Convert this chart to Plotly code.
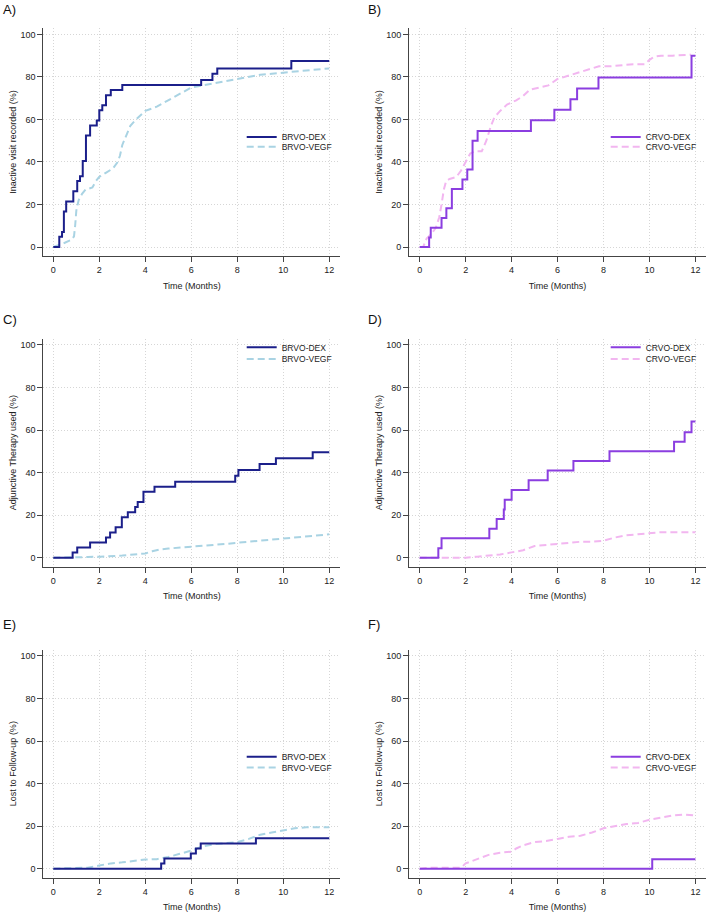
import plotly.graph_objects as go

# ---------------- DATA ----------------
# Panel A: Inactive visit recorded, BRVO
A_dex_x = [0, 0.26, 0.38, 0.46, 0.56, 0.87, 1.04, 1.16, 1.28, 1.42, 1.6, 1.89, 2.0, 2.13, 2.29, 2.5, 3.0, 6.43, 6.92, 7.13, 10.35, 12]
A_dex_y = [0, 4.8, 7.1, 16.7, 21.4, 26.2, 31.0, 33.3, 40.5, 52.4, 57.1, 59.5, 64.3, 66.7, 71.4, 73.8, 76.2, 78.6, 81.5, 84.0, 87.5, 87.5]
A_vegf_x = [0, 0.3, 0.5, 0.8, 0.9, 0.95, 1.0, 1.1, 1.25, 1.4, 1.7, 1.85, 2.0, 2.3, 2.6, 2.8, 2.9, 3.0, 3.2, 3.35, 3.6, 4.0, 4.5, 5.0, 5.5, 6.0, 6.5, 7.0, 7.5, 8.0, 8.5, 9.0, 9.5, 10.0, 10.5, 11.0, 11.5, 12.0]
A_vegf_y = [0, 1, 2, 3.5, 5, 10, 17, 22, 25, 27, 28, 31, 33, 35, 37, 40, 43, 48, 53, 57, 60, 64, 66, 69, 72, 75, 76, 77, 78, 79, 80, 81, 81.5, 82, 82.5, 83, 83.5, 84]

# Panel B: Inactive visit recorded, CRVO
B_dex_x = [0, 0.41, 0.48, 0.95, 1.16, 1.4, 1.86, 2.07, 2.3, 2.52, 4.84, 5.86, 6.56, 6.85, 7.78, 11.83, 12]
B_dex_y = [0, 4.5, 9.1, 13.6, 18.2, 27.3, 31.8, 36.4, 50.0, 54.5, 59.6, 64.5, 69.5, 74.5, 79.7, 90.0, 90.0]
B_vegf_x = [0, 0.15, 0.3, 0.5, 0.7, 0.85, 0.95, 1.05, 1.15, 1.3, 1.6, 1.8, 2.0, 2.2, 2.4, 2.7, 2.9, 3.1, 3.25, 3.5, 3.8, 4.2, 4.5, 4.8, 5.2, 5.6, 6.0, 6.3, 6.6, 7.0, 7.5, 7.8, 8.3, 8.8, 9.3, 9.8, 10.0, 10.2, 10.5, 11.0, 11.5, 11.8]
B_vegf_y = [0, 0, 4, 6, 9, 14, 20, 27, 31, 32, 33, 36, 40, 44, 45, 45, 50, 57, 61, 64, 67, 69, 71, 74, 75, 76, 79, 80, 81, 82, 84, 85, 85, 85.5, 86, 86, 88, 89.5, 90, 90, 90.5, 90.5]

# Panel C: Adjunctive therapy used, BRVO
C_dex_x = [0, 0.84, 1.04, 1.6, 2.29, 2.47, 2.71, 2.98, 3.24, 3.56, 3.67, 3.92, 4.4, 5.3, 7.91, 8.05, 8.97, 9.68, 11.28, 12]
C_dex_y = [0, 2.4, 4.8, 7.1, 9.5, 11.9, 14.3, 19.0, 21.4, 23.8, 26.2, 31.0, 33.3, 35.7, 38.5, 41.2, 44.0, 46.8, 49.6, 49.6]
C_vegf_x = [0, 1.0, 1.5, 2.0, 2.5, 3.0, 3.5, 4.0, 4.3, 4.6, 5.0, 5.5, 6.0, 6.5, 7.0, 7.5, 8.0, 8.5, 9.0, 9.5, 10.0, 10.5, 11.0, 11.5, 12.0]
C_vegf_y = [0, 0, 0.3, 0.5, 0.7, 1, 1.5, 2, 3, 3.8, 4.3, 4.7, 5, 5.5, 6, 6.5, 7, 7.5, 8, 8.5, 9, 9.5, 10, 10.5, 11]

# Panel D: Adjunctive therapy used, CRVO
D_dex_x = [0, 0.81, 0.95, 3.03, 3.35, 3.66, 3.7, 4.0, 4.74, 5.57, 6.69, 8.26, 11.07, 11.53, 11.83, 12]
D_dex_y = [0, 4.5, 9.1, 13.6, 18.2, 22.7, 27.3, 31.8, 36.4, 41.0, 45.5, 50.0, 54.5, 59.0, 64.0, 64.0]
D_vegf_x = [0, 2.0, 2.5, 3.0, 3.5, 4.0, 4.5, 5.0, 5.5, 6.0, 6.5, 7.0, 7.5, 8.0, 8.5, 9.0, 9.5, 10.0, 10.5, 11.0, 12.0]
D_vegf_y = [0, 0, 0.5, 1, 1.5, 2.5, 3.5, 5.5, 6, 6.5, 7, 7.5, 7.5, 8, 9.5, 10.5, 11, 11.5, 12, 12, 12]

# Panel E: Lost to follow-up, BRVO
E_dex_x = [0, 4.69, 4.83, 5.98, 6.2, 6.41, 8.81, 12]
E_dex_y = [0, 2.4, 4.8, 7.1, 9.5, 11.9, 14.3, 14.3]
E_vegf_x = [0, 1.0, 1.5, 2.0, 2.5, 3.0, 3.5, 4.0, 4.5, 5.0, 5.5, 6.0, 6.5, 7.0, 7.5, 8.0, 8.5, 9.0, 9.5, 10.0, 10.5, 11.0, 12.0]
E_vegf_y = [0, 0.2, 0.5, 1.5, 2.5, 3, 3.8, 4.3, 4.5, 5.5, 7, 8.5, 10.5, 11.5, 12, 12.5, 14, 16, 17, 18, 19, 19.5, 19.5]

# Panel F: Lost to follow-up, CRVO
F_dex_x = [0, 10.12, 12]
F_dex_y = [0, 4.5, 4.5]
F_vegf_x = [0, 0.5, 1.0, 1.5, 1.8, 2.0, 2.5, 3.0, 3.5, 4.0, 4.2, 4.5, 5.0, 5.5, 6.0, 6.5, 7.0, 7.5, 8.0, 8.5, 9.0, 9.5, 10.0, 10.5, 11.0, 11.5, 12.0]
F_vegf_y = [0, 0.5, 0.5, 0.3, 0.5, 2.5, 4.5, 6.5, 7.5, 8, 9.5, 11, 12.5, 13, 14, 15, 15.5, 17, 19, 20, 21, 21.5, 23, 24, 25, 25.5, 25]

panel_labels = ["A)", "B)", "C)", "D)", "E)", "F)"]
y_titles = ["Inactive visit recorded (%)", "Inactive visit recorded (%)",
            "Adjunctive Therapy used (%)", "Adjunctive Therapy used (%)",
            "Lost to Follow-up (%)", "Lost to Follow-up (%)"]
x_title = "Time (Months)"
x_ticks = [0, 2, 4, 6, 8, 10, 12]
y_ticks = [0, 20, 40, 60, 80, 100]
names = [("BRVO-DEX", "BRVO-VEGF"), ("CRVO-DEX", "CRVO-VEGF")]

series = [
    (A_dex_x, A_dex_y, A_vegf_x, A_vegf_y),
    (B_dex_x, B_dex_y, B_vegf_x, B_vegf_y),
    (C_dex_x, C_dex_y, C_vegf_x, C_vegf_y),
    (D_dex_x, D_dex_y, D_vegf_x, D_vegf_y),
    (E_dex_x, E_dex_y, E_vegf_x, E_vegf_y),
    (F_dex_x, F_dex_y, F_vegf_x, F_vegf_y),
]

# ---------------- STYLE / LAYOUT ----------------
W, H = 708, 914
FONT = "Liberation Sans, Arial, Helvetica, sans-serif"
dex_colors = ["#1b1f8a", "#8b3ee0"]
vegf_colors = ["#a9d3e3", "#f2b6f0"]

col_px = [(43.3, 340.3), (409.0, 706.0)]
col_range = [[-0.435, 12.48], [-0.466, 12.46]]
row_px = [(28.0, 256.0), (338.6, 566.7), (649.6, 877.7)]
y_range = [-4.23, 103.0]
legend_text_left = [281.7, 645.7]
legend_y = [(137.0, 146.8), (347.3, 359.0), (756.7, 767.5)]
label_y = [10.0, 319.0, 624.0]
label_x = [1.0, 366.0]

fig = go.Figure()
layout = dict(
    width=W, height=H,
    margin=dict(l=0, r=0, t=0, b=0),
    paper_bgcolor="white", plot_bgcolor="white",
    font=dict(family=FONT, size=9, color="#222"),
    showlegend=True,
)
annotations = []

for i in range(6):
    r, c = divmod(i, 2)
    ax = "" if i == 0 else str(i + 1)
    xa, ya = "x" + ax, "y" + ax
    dx, dy, vx, vy = series[i]
    dname, vname = names[c]
    lg1 = "legend" if i == 0 else "legend" + str(2 * i + 1)
    lg2 = "legend" + str(2 * i + 2)
    fig.add_trace(go.Scatter(x=vx, y=vy, mode="lines", name=vname,
                             line=dict(color=vegf_colors[c], width=2, dash="7px,4px"),
                             xaxis=xa, yaxis=ya, legend=lg2, hoverinfo="skip"))
    fig.add_trace(go.Scatter(x=dx, y=dy, mode="lines", name=dname, line_shape="hv",
                             line=dict(color=dex_colors[c], width=2),
                             xaxis=xa, yaxis=ya, legend=lg1, hoverinfo="skip"))
    x0, x1 = col_px[c]
    t0, b0 = row_px[r]
    axis_common = dict(showline=True, linecolor="#444", linewidth=1, ticks="outside",
                       ticklen=5, tickwidth=1, tickcolor="#444", showgrid=True,
                       gridcolor="#d6d6d6", griddash="1px,2px", gridwidth=1, zeroline=False,
                       tickfont=dict(size=9, color="#222"), mirror=False)
    layout["xaxis" + ax] = dict(axis_common, domain=[x0 / W, x1 / W], range=col_range[c],
                                tickvals=x_ticks, anchor=ya,
                                title=dict(text=x_title, font=dict(size=9), standoff=8))
    layout["yaxis" + ax] = dict(axis_common, domain=[1 - b0 / H, 1 - t0 / H], range=y_range,
                                tickvals=y_ticks, anchor=xa,
                                title=dict(text=y_titles[i], font=dict(size=9), standoff=2))
    ly1, ly2 = legend_y[r]
    lx = (legend_text_left[c] - 40) / W
    for lg, yy in ((lg1, ly1), (lg2, ly2)):
        layout[lg] = dict(x=lx, y=1 - yy / H, xanchor="left", yanchor="middle",
                          bgcolor="rgba(0,0,0,0)", borderwidth=0,
                          font=dict(size=8.5, color="#222"), tracegroupgap=0)
    annotations.append(dict(text=panel_labels[i], x=label_x[c] / W, y=1 - label_y[r] / H,
                            xref="paper", yref="paper", xanchor="left", yanchor="middle",
                            showarrow=False, font=dict(size=13, color="#111")))

layout["annotations"] = annotations
fig.update_layout(**layout)
fig.write_html("out.html", config={"displayModeBar": False},
               post_script="document.body.style.margin='0';document.body.style.overflow='hidden';")
